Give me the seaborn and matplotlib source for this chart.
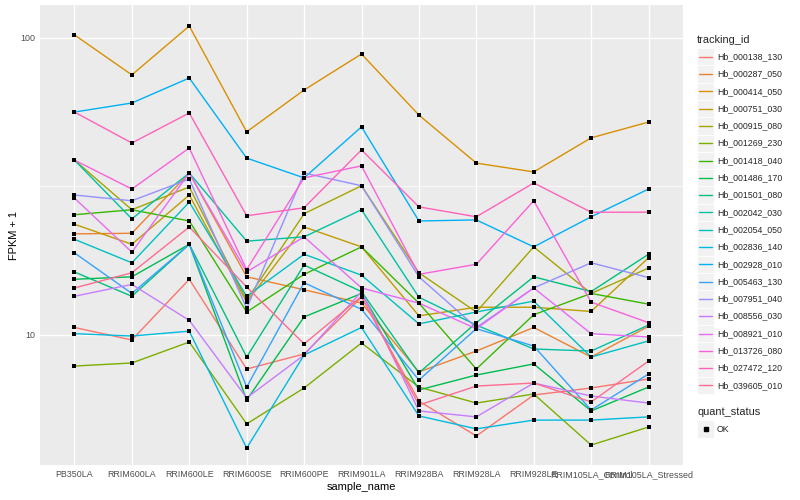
import numpy as np
import pandas as pd
import matplotlib
matplotlib.use("Agg")
import matplotlib.pyplot as plt
import seaborn as sns
from matplotlib.patches import Rectangle
from matplotlib.lines import Line2D
from matplotlib.ticker import NullLocator

samples = ["PB350LA", "RRIM600LA", "RRIM600LE", "RRIM600SE", "RRIM600PE", "RRIM901LA",
           "RRIM928BA", "RRIM928LA", "RRIM928LE", "RRIM105LA_Control", "RRIM105LA_Stressed"]

tracking_ids = ["Hb_000138_130", "Hb_000287_050", "Hb_000414_050", "Hb_000751_030",
                "Hb_000915_080", "Hb_001269_230", "Hb_001418_040", "Hb_001486_170",
                "Hb_001501_080", "Hb_002042_030", "Hb_002054_050", "Hb_002836_140",
                "Hb_002928_010", "Hb_005463_130", "Hb_007951_040", "Hb_008556_030",
                "Hb_008921_010", "Hb_013726_080", "Hb_027472_120", "Hb_039605_010"]

colors = ["#F8766D", "#EA8331", "#D89000", "#C09B00", "#A3A500", "#7CAE00", "#39B600",
          "#00BB4E", "#00BF7D", "#00C1A3", "#00BFC4", "#00BAE0", "#00B0F6", "#35A2FF",
          "#9590FF", "#C77CFF", "#E76BF3", "#FA62DB", "#FF62BC", "#FF6C91"]

# FPKM + 1 values, one list per gene, in sample order
hb_000138_130 = [10.6, 9.62, 15.4, 7.68, 8.63, 13.4, 5.99, 4.57, 6.28, 6.63, 7.11]
hb_000287_050 = [21.9, 22.0, 35.1, 15.7, 14.2, 12.8, 7.51, 8.83, 10.6, 8.43, 10.7]
hb_000414_050 = [102.4, 75.1, 109.7, 48.3, 66.8, 88.3, 55.0, 37.9, 35.4, 46.1, 52.1]
hb_000751_030 = [23.6, 20.2, 29.6, 12.9, 23.1, 19.8, 11.6, 12.4, 12.4, 12.0, 18.2]
hb_000915_080 = [38.8, 26.4, 31.5, 13.1, 25.6, 31.8, 16.2, 11.95, 19.8, 13.8, 16.8]
hb_001269_230 = [7.86, 8.05, 9.47, 5.02, 6.63, 9.40, 6.68, 5.90, 6.33, 4.26, 4.90]
hb_001418_040 = [25.4, 26.4, 24.2, 11.95, 16.0, 19.8, 12.8, 7.68, 11.7, 13.8, 12.7]
hb_001486_170 = [15.4, 15.7, 20.2, 6.04, 11.5, 13.8, 6.53, 7.33, 7.99, 5.55, 6.68]
hb_001501_080 = [16.3, 13.5, 20.2, 8.43, 17.2, 14.0, 7.45, 11.0, 15.7, 14.0, 18.7]
hb_002042_030 = [38.8, 24.6, 35.1, 20.7, 21.4, 26.4, 13.4, 10.8, 8.97, 8.83, 10.8]
hb_002054_050 = [21.0, 17.5, 28.0, 13.5, 18.7, 15.9, 10.9, 11.95, 13.0, 8.43, 9.55]
hb_002836_140 = [10.1, 9.92, 10.3, 4.16, 8.56, 10.6, 5.34, 4.83, 5.17, 5.17, 5.30]
hb_002928_010 = [56.3, 60.4, 73.3, 39.4, 33.8, 50.2, 24.2, 24.4, 19.8, 25.0, 31.0]
hb_005463_130 = [18.9, 13.8, 20.2, 6.68, 15.0, 12.2, 7.05, 10.5, 9.18, 5.59, 7.39]
hb_007951_040 = [29.6, 28.3, 33.5, 12.3, 35.1, 31.8, 15.7, 10.6, 14.4, 17.5, 15.6]
hb_008556_030 = [13.5, 14.8, 11.2, 6.14, 8.56, 14.0, 5.55, 5.30, 6.89, 6.23, 5.90]
hb_008921_010 = [28.9, 19.0, 35.1, 16.3, 21.4, 14.4, 12.8, 10.5, 14.4, 10.1, 9.85]
hb_013726_080 = [38.8, 31.0, 42.6, 16.6, 33.8, 37.1, 16.0, 17.3, 28.3, 12.9, 11.0]
hb_027472_120 = [56.3, 44.3, 55.9, 25.2, 26.8, 42.0, 27.0, 25.0, 32.5, 25.9, 25.9]
hb_039605_010 = [14.4, 16.2, 23.1, 14.5, 9.33, 13.5, 5.81, 6.73, 6.89, 5.95, 8.17]

series = [hb_000138_130, hb_000287_050, hb_000414_050, hb_000751_030, hb_000915_080,
          hb_001269_230, hb_001418_040, hb_001486_170, hb_001501_080, hb_002042_030,
          hb_002054_050, hb_002836_140, hb_002928_010, hb_005463_130, hb_007951_040,
          hb_008556_030, hb_008921_010, hb_013726_080, hb_027472_120, hb_039605_010]

rows = []
for tid, vals in zip(tracking_ids, series):
    for i, (s, v) in enumerate(zip(samples, vals)):
        rows.append({"tracking_id": tid, "sample_name": s, "x": i, "fpkm1": v,
                     "quant_status": "OK"})
df = pd.DataFrame(rows)

sns.set_theme(style="white")
plt.rcParams["font.family"] = ["Liberation Sans", "DejaVu Sans"]

W, H = 800, 500
fig = plt.figure(figsize=(8, 5), dpi=100)
fig.patch.set_facecolor("white")
pl, pr, pt, pb = 40, 683, 5, 465
ax = fig.add_axes([pl / W, 1 - pb / H, (pr - pl) / W, (pb - pt) / H])
ax.set_facecolor("#EBEBEB")

sns.lineplot(data=df, x="x", y="fpkm1", hue="tracking_id", hue_order=tracking_ids,
             palette=colors, estimator=None, sort=False, lw=1.0, legend=False, ax=ax,
             zorder=2)
sns.scatterplot(data=df, x="x", y="fpkm1", color="black", marker="s", s=10, linewidth=0,
                legend=False, ax=ax, zorder=3)

ax.set_yscale("log")
ax.set_ylim(3.65, 129.1)
ax.set_xlim(-0.6, len(samples) - 0.4)
ax.set_xticks(range(len(samples)))
ax.set_xticklabels(samples)
ax.set_yticks([10, 100])
ax.set_yticklabels(["10", "100"])
ax.yaxis.set_minor_locator(NullLocator())
ax.xaxis.set_minor_locator(NullLocator())
for sp in ax.spines.values():
    sp.set_visible(False)
ax.grid(True, which="major", color="white", lw=1.0, zorder=0)
ax.set_axisbelow(True)
ax.axhline(10 ** 1.5, color="white", lw=0.5, zorder=0.5)
ax.tick_params(axis="both", length=2.0, width=0.8, color="#333333", labelcolor="#4D4D4D",
               labelsize=6.4, pad=1.6)
ax.set_xlabel("sample_name", fontsize=7.9, color="black", labelpad=2)
ax.set_ylabel("FPKM + 1", fontsize=7.9, color="black", labelpad=1)


def fx(px):
    return px / W


def fy(py):
    return 1 - py / H


# tracking_id legend
fig.text(fx(697), fy(40), "tracking_id", fontsize=7.9, va="center", ha="left")
ks = 17.3
for i, (tid, c) in enumerate(zip(tracking_ids, colors)):
    yc = 56.7 + ks * i
    fig.patches.append(Rectangle((fx(697), fy(yc + ks / 2)), ks / W, ks / H,
                                 transform=fig.transFigure, facecolor="#F2F2F2",
                                 edgecolor="white", lw=0.6))
    fig.lines.append(Line2D([fx(699), fx(712)], [fy(yc), fy(yc)], color=c, lw=1.0,
                            transform=fig.transFigure))
    fig.text(fx(717), fy(yc), tid, fontsize=6.3, va="center", ha="left")

# quant_status legend
fig.text(fx(697), fy(412), "quant_status", fontsize=7.9, va="center", ha="left")
fig.patches.append(Rectangle((fx(697), fy(429 + ks / 2)), ks / W, ks / H,
                             transform=fig.transFigure, facecolor="#F2F2F2",
                             edgecolor="white", lw=0.6))
fig.lines.append(Line2D([fx(705.5)], [fy(429)], marker="s", markersize=2.9, color="black",
                        lw=0, transform=fig.transFigure))
fig.text(fx(717), fy(429), "OK", fontsize=6.3, va="center", ha="left")

fig.savefig("out.png", dpi=100)
